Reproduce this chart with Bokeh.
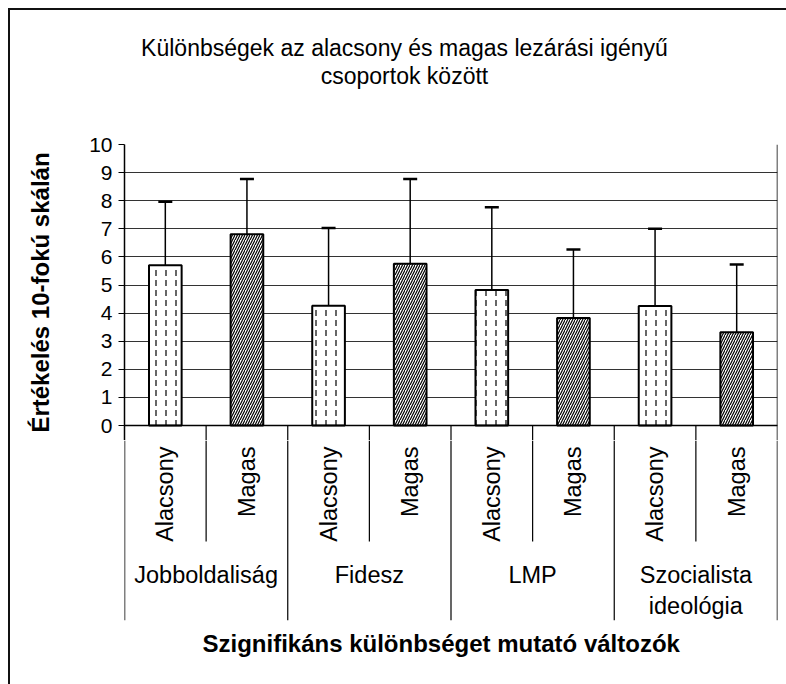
import math
from bokeh.plotting import figure
from bokeh.layouts import column
from bokeh.models import ColumnDataSource, FixedTicker, Whisker, TeeHead, Span, Title, Range1d
from bokeh.core.properties import value
from bokeh.embed import file_html
from bokeh.resources import INLINE

# ---- data ----
title_lines = ["Különbségek az alacsony és magas lezárási igényű", "csoportok között"]
groups = ["Jobboldaliság", "Fidesz", "LMP", "Szocialista\nideológia"]
subgroups = ["Alacsony", "Magas"]
means = [5.70, 6.81, 4.26, 5.76, 4.82, 3.83, 4.25, 3.32]
uppers = [7.96, 8.77, 7.03, 8.77, 7.77, 6.26, 7.00, 5.73]
y_ticks = list(range(0, 11))
y_title = "Értékelés 10-fokú skálán"
x_title = "Szignifikáns különbséget mutató változók"

# ---- layout (canvas pixels) ----
FONT = "Liberation Sans"
TXT = "23.5px"
W, H = 786, 684
F_LEFT, F_RIGHT, F_TOP, F_BOT = 124, 777, 144, 620
TOP_H = 110            # height of the title strip
SPLIT = 440            # where the bar figure ends and the category panel begins
ZERO_Y = 425
PXY = (ZERO_Y - F_TOP) / 10.0
def ydat(py):
    return (ZERO_Y - py) / PXY

n = len(means)
n_sub = len(subgroups)
xs = [i + 1 for i in range(n)]
subs = [subgroups[i % n_sub] for i in range(n)]
patterns = ["vertical_dash" if s == subgroups[0] else "right_diagonal_line" for s in subs]
scales = [10 if s == subgroups[0] else 5 for s in subs]
short_b = [i * n_sub + j + 0.5 for i in range(len(groups)) for j in range(1, n_sub)]
long_b = [i * n_sub + 0.5 for i in range(1, len(groups))]
x_range = Range1d(0.5, n + 0.5)

border_css = {
    "background-image": "linear-gradient(#111,#111), linear-gradient(#111,#111)",
    "background-repeat": "no-repeat",
}
left_only = dict(border_css, **{"background-size": "2px 100%, 0px 0px",
                                "background-position": "8px 0px, 0px 0px"})

# ================= title strip =================
t = figure(width=W, height=TOP_H, x_range=Range1d(0, W), y_range=Range1d(TOP_H, 0),
           output_backend="svg", toolbar_location=None, x_axis_type=None, y_axis_type=None,
           title=None, min_border_left=0, min_border_right=0, min_border_top=0, min_border_bottom=0)
t.outline_line_color = None
t.background_fill_color = None
t.border_fill_color = None
t.xgrid.visible = False
t.ygrid.visible = False
t.styles = dict(border_css, **{"background-size": "2px 100%, 100% 2px",
                               "background-position": "8px 8px, 8px 8px"})
t.text(x=[337, 337], y=[47, 75], text=title_lines, text_align="center", text_baseline="middle",
       text_font=value(FONT), text_font_size="23px", text_color="black")

# ================= bar figure =================
p = figure(width=W, height=SPLIT - TOP_H, x_range=x_range, y_range=Range1d(ydat(SPLIT), 10),
           output_backend="svg", toolbar_location=None, x_axis_type=None, title=None,
           min_border_left=F_LEFT, min_border_right=W - F_RIGHT,
           min_border_top=F_TOP - TOP_H, min_border_bottom=0)
p.outline_line_color = None
p.background_fill_color = "white"
p.border_fill_color = None
p.styles = left_only

ax = p.yaxis[0]
ax.ticker = FixedTicker(ticks=y_ticks)
ax.minor_tick_line_color = None
ax.axis_line_color = "black"
ax.axis_line_width = 1.5
ax.major_tick_line_color = "black"
ax.major_tick_out = 6
ax.major_tick_in = 0
ax.major_label_text_font = FONT
ax.major_label_text_font_size = "21px"
ax.major_label_text_color = "black"
ax.major_label_standoff = 6
ax.axis_label = y_title
ax.axis_label_text_font = FONT
ax.axis_label_text_font_size = "24px"
ax.axis_label_text_font_style = "bold"
ax.axis_label_text_color = "black"
ax.axis_label_standoff = 32

p.ygrid.ticker = FixedTicker(ticks=y_ticks)
p.ygrid.grid_line_color = "#333333"
p.ygrid.grid_line_width = 1
p.xgrid.visible = False

p.add_layout(Span(location=n + 0.5, dimension="height", line_color="black", line_width=1.5))
p.add_layout(Span(location=0, dimension="width", line_color="black", line_width=1.5))

src = ColumnDataSource(dict(x=xs, top=means, upper=uppers, pat=patterns, sc=scales))
p.vbar(x="x", top="top", width=0.4, source=src, fill_color="white", line_color="black",
       line_width=2, hatch_pattern="pat", hatch_color="black", hatch_scale="sc", hatch_weight=1.2)
p.add_layout(Whisker(source=src, base="x", upper="upper", lower="top", dimension="height",
                     line_color="black", line_width=1.5,
                     upper_head=TeeHead(size=14, line_width=2.5, line_color="black"),
                     lower_head=None))
sep_all = short_b + long_b
p.segment(x0=sep_all, y0=[0] * len(sep_all), x1=sep_all, y1=[ydat(SPLIT)] * len(sep_all),
          line_color="black", line_width=1.2)

# ================= category panel =================
q = figure(width=W, height=H - SPLIT, x_range=x_range, y_range=Range1d(ydat(F_BOT), ydat(SPLIT)),
           output_backend="svg", toolbar_location=None, x_axis_type=None, y_axis_type=None,
           title=None, min_border_left=F_LEFT, min_border_right=W - F_RIGHT,
           min_border_top=0, min_border_bottom=0)
q.outline_line_color = None
q.background_fill_color = "white"
q.border_fill_color = None
q.styles = left_only
q.xgrid.visible = False
q.ygrid.visible = False

for loc in [0.5, n + 0.5]:
    q.add_layout(Span(location=loc, dimension="height", line_color="black", line_width=1.5))
q.segment(x0=short_b, y0=[ydat(SPLIT)] * len(short_b), x1=short_b, y1=[ydat(541)] * len(short_b),
          line_color="black", line_width=1.2)
q.segment(x0=long_b, y0=[ydat(SPLIT)] * len(long_b), x1=long_b, y1=[ydat(F_BOT)] * len(long_b),
          line_color="black", line_width=1.2)

q.text(x=xs, y=[ydat(446)] * n, text=subs, angle=math.pi / 2,
       text_align="right", text_baseline="middle", text_font=value(FONT),
       text_font_size=TXT, text_color="black")
gx = [i * n_sub + (n_sub + 1) / 2 for i in range(len(groups))]
q.text(x=gx, y=[ydat(561)] * len(gx), text=groups, text_align="center", text_baseline="top",
       text_font=value(FONT), text_font_size=TXT, text_color="black", text_line_height=1.2)

q.add_layout(Title(text=x_title, align="left", offset=78, standoff=15,
                   text_font=FONT, text_font_size="24px", text_font_style="bold",
                   text_color="black"), "below")
q.min_border_bottom = H - F_BOT

layout = column(t, p, q, spacing=0)
open("out.html", "w").write(file_html(layout, INLINE))
